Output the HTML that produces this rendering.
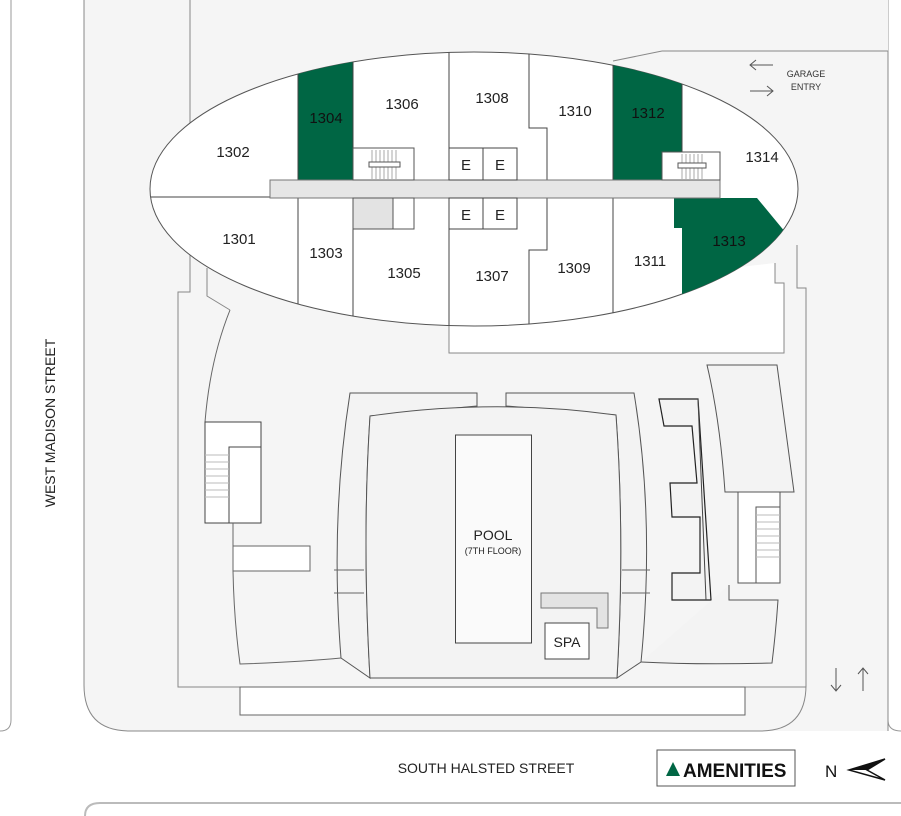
<!DOCTYPE html>
<html><head><style>
html,body{margin:0;padding:0;background:#fff;}
svg{display:block;font-family:"Liberation Sans",sans-serif;}
</style></head><body>
<svg width="901" height="816" viewBox="0 0 901 816" xmlns="http://www.w3.org/2000/svg">
<path d="M11 0 V720 Q11 731 0 731" fill="none" stroke="#999" stroke-width="1"/>
<path d="M888 0 V720 Q888 731 901 731" fill="none" stroke="#999" stroke-width="1"/>
<path d="M901 803 H100 Q85 803 85 816" fill="none" stroke="#bbb" stroke-width="2"/>
<path d="M84 0 H888 V731 H130 Q84 731 84 685 Z" fill="#f5f5f5" stroke="none"/>
<path d="M84 0 V685 Q84 731 130 731 H760 Q806 731 806 685" fill="none" stroke="#888" stroke-width="1"/>
<path d="M888 51 V731" fill="none" stroke="#888"/>
<path d="M662 51 H888" fill="none" stroke="#888"/>
<path d="M613 61 L662 51" fill="none" stroke="#888"/>
<path d="M190 0 V292 H178 V687 H806 V288 H797 V245" fill="none" stroke="#888"/>
<rect x="240" y="687" width="505" height="28" fill="#fff" stroke="#666"/>
<path d="M207 268 V296 L230 310" fill="none" stroke="#888"/>
<path d="M449 300 V353 H784 V283 H775 V263" fill="#fff" stroke="#888"/>
<path d="M230 310 Q210 360 205 422" fill="none" stroke="#666"/>
<rect x="205" y="422" width="56" height="101" fill="#fff" stroke="#444"/>
<rect x="229" y="447" width="32" height="76" fill="#fff" stroke="#444"/>
<g stroke="#bbb"><line x1="205" y1="455" x2="229" y2="455"/><line x1="205" y1="462" x2="229" y2="462"/><line x1="205" y1="469" x2="229" y2="469"/><line x1="205" y1="476" x2="229" y2="476"/><line x1="205" y1="483" x2="229" y2="483"/><line x1="205" y1="490" x2="229" y2="490"/><line x1="205" y1="497" x2="229" y2="497"/></g>
<path d="M233 523 V546 M233 571 Q234 620 240 664 Q300 662 341 658" fill="none" stroke="#666"/>
<path d="M233 546 H310 V571 H233 Z" fill="#fff" stroke="#666"/>
<path d="M350 393 H477 V406 L370 416 Q362 540 370 678 L341 658 Q330 520 350 393 Z" fill="#f3f3f3" stroke="#555"/>
<path d="M506 393 H634 Q655 520 641 662 L617 678 Q625 540 616 415 L506 406 Z" fill="#f3f3f3" stroke="#555"/>
<path d="M334 570 H364 M334 593 H364 M622 570 H650 M622 593 H650" stroke="#666"/>
<path d="M370 416 Q494 398 616 415 Q625 540 617 678 H370 Q362 540 370 416 Z" fill="#f3f3f3" stroke="#555"/>
<rect x="455.5" y="435" width="76" height="208" fill="#fafafa" stroke="#444"/>
<text x="493" y="540" font-size="14" text-anchor="middle" fill="#222">POOL</text>
<text x="493" y="554" font-size="9" text-anchor="middle" fill="#222">(7TH FLOOR)</text>
<path d="M541 593 H608 V628 H597 V608 H541 Z" fill="#e3e3e3" stroke="#777"/>
<rect x="545" y="623" width="44" height="36" fill="#fff" stroke="#444"/>
<text x="567" y="647" font-size="14" text-anchor="middle" fill="#222">SPA</text>
<path d="M659 399 H698 L711 600 H672 V573 H700 V517 H672 L670 483 H697 L692 426 H664 Z" fill="#f3f3f3" stroke="#222" stroke-width="1.2"/>
<path d="M698 399 L706 600" stroke="#444"/>
<path d="M707 365 H777 L794 492 H725 Q720 420 707 365 Z" fill="#f3f3f3" stroke="#555"/>
<rect x="738" y="492" width="42" height="91" fill="#fff" stroke="#555"/>
<rect x="756" y="507" width="24" height="76" fill="#fff" stroke="#555"/>
<g stroke="#bbb"><line x1="756" y1="515" x2="780" y2="515"/><line x1="756" y1="522" x2="780" y2="522"/><line x1="756" y1="529" x2="780" y2="529"/><line x1="756" y1="536" x2="780" y2="536"/><line x1="756" y1="543" x2="780" y2="543"/><line x1="756" y1="550" x2="780" y2="550"/><line x1="756" y1="557" x2="780" y2="557"/></g>
<path d="M729 585 V600 H778 Q776 630 772 663 Q700 665 641 662" fill="#f3f3f3" stroke="#555"/>
<ellipse cx="474" cy="189" rx="324" ry="137" fill="#fff" stroke="#555"/>
<clipPath id="ec"><ellipse cx="474" cy="189" rx="324" ry="137"/></clipPath>
<g clip-path="url(#ec)">
<rect x="298" y="40" width="55" height="140" fill="#006644"/>
<rect x="613" y="40" width="69" height="140" fill="#006644"/>
<path d="M674 198 H757 L800 250 L800 340 H682 V228 H674 Z" fill="#006644"/>
<g stroke="#444" fill="none">
<path d="M150 197 H270"/>
<path d="M298 40 V180 M353 40 V148 M449 40 V180 M529 40 V128 H547 V180 M613 40 V180 M682 40 V152"/>
<path d="M298 198 V340 M353 229 V340 M449 198 V340 M547 198 V250 H529 V340 M613 198 V340"/>
</g>
</g>
<rect x="270" y="180" width="450" height="18" fill="#e6e6e6" stroke="#777"/>
<rect x="353" y="148" width="61" height="32" fill="#fff" stroke="#555"/>
<g stroke="#aaa"><line x1="372" y1="150" x2="372" y2="180"/><line x1="376" y1="150" x2="376" y2="180"/><line x1="380" y1="150" x2="380" y2="180"/><line x1="384" y1="150" x2="384" y2="180"/><line x1="388" y1="150" x2="388" y2="180"/><line x1="392" y1="150" x2="392" y2="180"/><line x1="396" y1="150" x2="396" y2="180"/></g>
<rect x="369" y="162" width="31" height="5" fill="#fff" stroke="#555"/>
<rect x="662" y="152" width="58" height="28" fill="#fff" stroke="#555"/>
<g stroke="#aaa"><line x1="682" y1="154" x2="682" y2="180"/><line x1="686" y1="154" x2="686" y2="180"/><line x1="690" y1="154" x2="690" y2="180"/><line x1="694" y1="154" x2="694" y2="180"/><line x1="698" y1="154" x2="698" y2="180"/><line x1="702" y1="154" x2="702" y2="180"/></g>
<rect x="678" y="163" width="28" height="5" fill="#fff" stroke="#555"/>
<rect x="449" y="148" width="34" height="32" fill="#fff" stroke="#444"/>
<rect x="483" y="148" width="34" height="32" fill="#fff" stroke="#444"/>
<rect x="449" y="198" width="34" height="31" fill="#fff" stroke="#444"/>
<rect x="483" y="198" width="34" height="31" fill="#fff" stroke="#444"/>
<rect x="353" y="198" width="40" height="31" fill="#e3e3e3" stroke="#555"/>
<rect x="393" y="198" width="21" height="31" fill="#fff" stroke="#555"/>
<g font-size="15" fill="#222" text-anchor="middle">
<text x="466" y="170">E</text><text x="500" y="170">E</text>
<text x="466" y="220">E</text><text x="500" y="220">E</text>
<text x="233" y="157">1302</text>
<text x="326" y="123" fill="#111">1304</text>
<text x="402" y="109">1306</text>
<text x="492" y="103">1308</text>
<text x="575" y="116">1310</text>
<text x="648" y="118" fill="#111">1312</text>
<text x="762" y="162">1314</text>
<text x="239" y="244">1301</text>
<text x="326" y="258">1303</text>
<text x="404" y="278">1305</text>
<text x="492" y="281">1307</text>
<text x="574" y="273">1309</text>
<text x="650" y="266">1311</text>
<text x="729" y="246" fill="#111">1313</text>
</g>
<g stroke="#555" fill="none"><path d="M773 65 H750 M756 60 L750 65 L756 70"/><path d="M750 91 H773 M767 86 L773 91 L767 96"/>
<path d="M836 668 V691 M831 685 L836 691 L841 685"/><path d="M863 691 V668 M858 674 L863 668 L868 674"/></g>
<text x="806" y="77" font-size="9" text-anchor="middle" fill="#333">GARAGE</text>
<text x="806" y="90" font-size="9" text-anchor="middle" fill="#333">ENTRY</text>
<text transform="translate(55,423) rotate(-90)" font-size="14" text-anchor="middle" fill="#222">WEST MADISON STREET</text>
<text x="486" y="773" font-size="14" text-anchor="middle" fill="#222">SOUTH HALSTED STREET</text>
<rect x="657" y="750" width="138" height="36" fill="#fff" stroke="#555"/>
<path d="M666 776 L673 762 L680 776 Z" fill="#006644"/>
<text x="683" y="777" font-size="19" font-weight="bold" fill="#111">AMENITIES</text>
<text x="825" y="777" font-size="17" fill="#111">N</text>
<path d="M849 770 L885 759 L867 770 L885 780 Z" fill="#fff" stroke="#111" stroke-width="1.5"/>
<path d="M849 770 L885 759 L867 770 Z" fill="#111"/>
</svg>
</body></html>
